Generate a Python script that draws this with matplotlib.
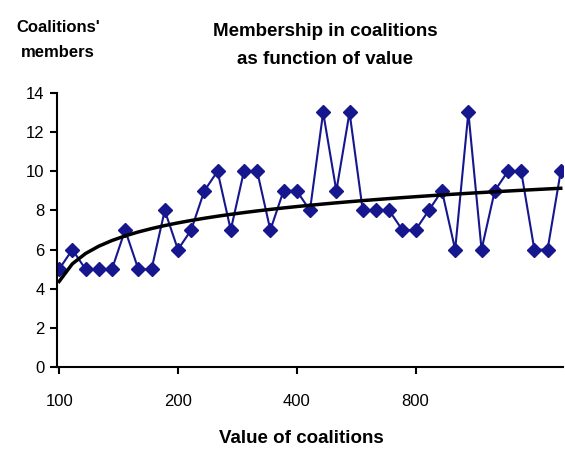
import matplotlib.pyplot as plt
import numpy as np

plt.rcParams['font.family'] = ['Liberation Sans', 'DejaVu Sans']

# coalition members per category (value axis is categorical, log-spaced labels)
members = [5, 6, 5, 5, 5, 7, 5, 5, 8, 6, 7, 9, 10, 7, 10, 10, 7, 9, 9, 8,
           13, 9, 13, 8, 8, 8, 7, 7, 8, 9, 6, 13, 6, 9, 10, 10, 6, 6, 10]
tick_labels = ["100", "200", "400", "800"]
tick_step = 9

pos = np.arange(len(members))

# Excel-style logarithmic trendline over category index
a, b = np.polyfit(np.log(pos + 1), members, 1)
trend = a * np.log(pos + 1) + b

fig = plt.figure(figsize=(5.65, 4.55), dpi=100)
ax = fig.add_axes([0.1, 0.193, 0.896, 0.603])

ax.plot(pos, members, color="#16168e", lw=1.5, marker="D", ms=7,
        markerfacecolor="#16168e", markeredgecolor="#16168e", zorder=2)
ax.plot(pos, trend, color="black", lw=2.5, zorder=3)

ax.set_ylim(0, 14)
ax.set_yticks(range(0, 15, 2))
ax.set_xlim(-0.2, len(members) - 0.85)
ax.set_xticks(pos[::tick_step][:len(tick_labels)])
ax.set_xticklabels(tick_labels)

for s in ["top", "right"]:
    ax.spines[s].set_visible(False)
for s in ["left", "bottom"]:
    ax.spines[s].set_linewidth(1.5)
ax.tick_params(axis="both", labelsize=12, width=1.5, length=5, direction="out")
ax.tick_params(axis="x", pad=14)

fig.text(0.575, 0.9, "Membership in coalitions\nas function of value",
         ha="center", va="center", fontsize=13.5, fontweight="bold",
         linespacing=1.85)
fig.text(0.103, 0.912, "Coalitions'\nmembers", ha="center", va="center",
         fontsize=12, fontweight="bold", linespacing=1.9)
fig.text(0.533, 0.037, "Value of coalitions", ha="center", va="center",
         fontsize=13.5, fontweight="bold")

plt.savefig("out.png", dpi=100)
plt.close()
